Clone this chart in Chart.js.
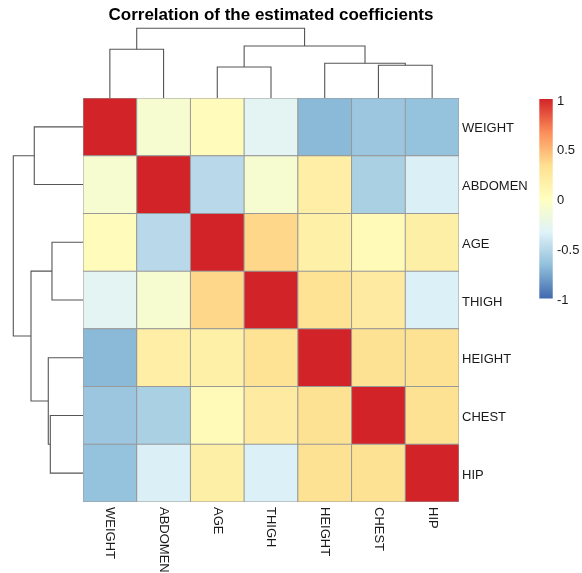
<!DOCTYPE html>
<html>
<head>
<meta charset="utf-8">
<script src="https://cdn.jsdelivr.net/npm/chart.js@4"></script>
<style>
  body { margin: 0; background: #fff; }
  #wrap { width: 582px; height: 573px; position: relative; }
</style>
</head>
<body>
<div id="wrap"><canvas id="heat"></canvas></div>
<script>
// labels (rows and columns share the clustered order)
const varNames = ["WEIGHT", "ABDOMEN", "AGE", "THIGH", "HEIGHT", "CHEST", "HIP"];

// correlation rows
const corrWEIGHT  = [1.00, -0.10, 0.03, -0.30, -0.69, -0.62, -0.65];
const corrABDOMEN = [-0.10, 1.00, -0.50, -0.10, 0.18, -0.56, -0.36];
const corrAGE     = [0.03, -0.50, 1.00, 0.37, 0.16, 0.05, 0.17];
const corrTHIGH   = [-0.30, -0.10, 0.37, 1.00, 0.30, 0.21, -0.35];
const corrHEIGHT  = [-0.69, 0.18, 0.16, 0.30, 1.00, 0.31, 0.31];
const corrCHEST   = [-0.62, -0.56, 0.05, 0.21, 0.31, 1.00, 0.31];
const corrHIP     = [-0.65, -0.36, 0.17, -0.35, 0.31, 0.31, 1.00];
const corrRows = [corrWEIGHT, corrABDOMEN, corrAGE, corrTHIGH, corrHEIGHT, corrCHEST, corrHIP];

// hclust style merges (negative = leaf number), and merge heights (root = 1)
const treeMerges  = [[-3, -4], [-6, -7], [-5, 2], [-1, -2], [1, 3], [4, 5]];
const treeHeights = [0.445, 0.469, 0.498, 0.699, 0.746, 1.0];

// colour key
const legendTicks = [-1, -0.5, 0, 0.5, 1];
const paletteStops = [-1, -2 / 3, -1 / 3, 0, 1 / 3, 2 / 3, 1];
const paletteColors = ["#4169AE", "#91BFDB", "#E0F3F8", "#FFFFBF", "#FEE090", "#FC8D59", "#D22428"];

Chart.defaults.font.family = "'Liberation Sans', Arial, sans-serif";

function hexRgb(h) {
    return [1, 3, 5].map(i => parseInt(h.substr(i, 2), 16));
}
function colorFor(v) {
    for (let i = 0; i < paletteStops.length - 1; i++) {
        if (v <= paletteStops[i + 1]) {
            const t = (v - paletteStops[i]) / (paletteStops[i + 1] - paletteStops[i]);
            const a = hexRgb(paletteColors[i]), b = hexRgb(paletteColors[i + 1]);
            const c = a.map((x, k) => Math.round(x + (b[k] - x) * t));
            return "rgb(" + c.join(",") + ")";
        }
    }
    return paletteColors[paletteColors.length - 1];
}

// dendrogram: each merge becomes a U of 4 points (position, height)
function dendroSegments(merges, heights) {
    const pos = [];
    const segs = [];
    const node = (k) => k < 0 ? { p: -k - 0.5, h: 0 } : { p: pos[k - 1], h: heights[k - 1] };
    merges.forEach(([a, b], i) => {
        const A = node(a), B = node(b), h = heights[i];
        pos[i] = (A.p + B.p) / 2;
        segs.push([[A.p, A.h], [A.p, h], [B.p, h], [B.p, B.h]]);
    });
    return segs;
}

const lineStyle = {
    type: "line", borderColor: "#555", borderWidth: 1.1, pointRadius: 0,
    fill: false, tension: 0, clip: false
};

const segs = dendroSegments(treeMerges, treeHeights);
const topTree = segs.map(s => Object.assign({}, lineStyle, {
    data: s.map(([p, h]) => ({ x: p, y: h })), xAxisID: "x", yAxisID: "hTop"
}));
const leftTree = segs.map(s => Object.assign({}, lineStyle, {
    data: s.map(([p, h]) => ({ x: h, y: p })), xAxisID: "hLeft", yAxisID: "y"
}));

// heatmap cells as floating bars
const cells = [];
const cellColors = [];
corrRows.forEach((row, i) => {
    row.forEach((v, j) => {
        cells.push({ x: j + 0.5, y: [i, i + 1] });
        cellColors.push(colorFor(v));
    });
});

function keyGradient(c) {
    const cb = c.chart.scales.cb;
    if (!cb) return paletteColors[3];
    const y0 = cb.getPixelForValue(-1), y1 = cb.getPixelForValue(1);
    if (!isFinite(y0) || !isFinite(y1)) return paletteColors[3];
    const g = c.chart.ctx.createLinearGradient(0, y0, 0, y1);
    paletteStops.forEach((s, i) => g.addColorStop((s + 1) / 2, paletteColors[i]));
    return g;
}

// rotated column labels under the heatmap
const colLabels = {
    id: "colLabels",
    afterDraw(chart) {
        const { ctx, chartArea } = chart;
        const x = chart.scales.x;
        ctx.save();
        ctx.font = "13px 'Liberation Sans', Arial, sans-serif";
        ctx.fillStyle = "#1a1a1a";
        ctx.textAlign = "left";
        ctx.textBaseline = "middle";
        varNames.forEach((name, j) => {
            ctx.save();
            ctx.translate(x.getPixelForValue(j + 0.5), chartArea.bottom + 5);
            ctx.rotate(Math.PI / 2);
            ctx.fillText(name, 0, 0);
            ctx.restore();
        });
        ctx.restore();
    }
};

const noLines = { display: false, drawTicks: false };

new Chart(document.getElementById("heat"), {
    type: "bar",
    data: {
        datasets: [
            {
                data: cells, backgroundColor: cellColors,
                borderColor: "#999999", borderWidth: 1, borderSkipped: false, inflateAmount: 0.5,
                barPercentage: 1, categoryPercentage: 1, grouped: false,
                xAxisID: "x", yAxisID: "y"
            },
            {
                data: [{ x: 8.62, y: [legendTicks[0], legendTicks[legendTicks.length - 1]] }],
                backgroundColor: keyGradient,
                borderWidth: 0, inflateAmount: 0, barPercentage: 0.25, categoryPercentage: 1,
                grouped: false, clip: false, xAxisID: "x", yAxisID: "cb"
            },
            ...topTree,
            ...leftTree
        ]
    },
    options: {
        responsive: true,
        maintainAspectRatio: false,
        animation: false,
        events: [],
        layout: { padding: { left: 83, right: 0, top: 0, bottom: 71 } },
        plugins: {
            legend: { display: false },
            tooltip: { enabled: false },
            title: {
                display: true,
                fullSize: false,
                text: "Correlation of the estimated coefficients",
                color: "#000",
                font: { size: 17, weight: "bold" },
                padding: { top: 5, bottom: 72.6 }
            }
        },
        scales: {
            x: { type: "linear", min: 0, max: 7, offset: false, display: false, ticks: { stepSize: 1 } },
            hLeft: { type: "linear", axis: "x", position: "bottom", reverse: true, offset: false, min: -5.394, max: 0, display: false },
            hTop: { type: "linear", axis: "y", position: "left", min: -5.796, max: 0, display: false },
            y: {
                type: "linear", position: "right", reverse: true, min: 0, max: 7, weight: 0,
                grid: noLines, border: { display: false },
                afterBuildTicks: (s) => { s.ticks = varNames.map((_, i) => ({ value: i + 0.5 })); },
                afterFit: (s) => { s.width = 83; },
                ticks: {
                    autoSkip: false, padding: 3, labelOffset: 2, color: "#1a1a1a", font: { size: 13 },
                    callback: (v, i) => varNames[i]
                }
            },
            cb: {
                type: "linear", position: "right", min: -3.04, max: 1.01, weight: 1,
                grid: noLines, border: { display: false },
                afterBuildTicks: (s) => { s.ticks = legendTicks.map(v => ({ value: v })); },
                afterFit: (s) => { s.width = 40; },
                ticks: {
                    autoSkip: false, padding: 15, labelOffset: 2, color: "#1a1a1a", font: { size: 13 },
                    callback: (v) => String(v)
                }
            }
        }
    },
    plugins: [colLabels]
});
</script>
</body>
</html>
